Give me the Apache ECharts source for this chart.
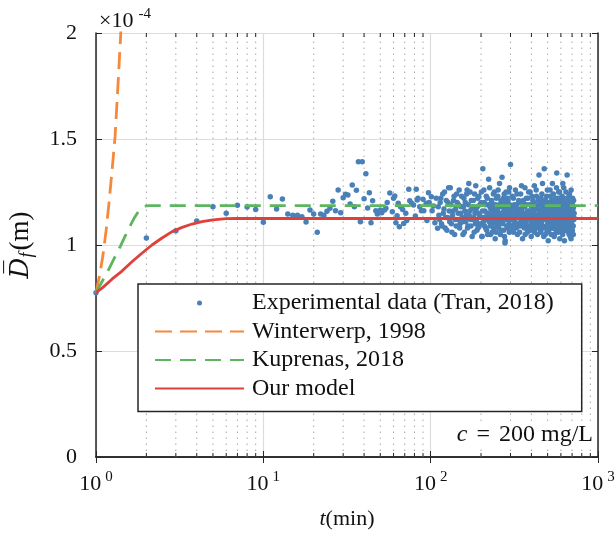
<!DOCTYPE html>
<html>
<head>
<meta charset="utf-8">
<style>
html,body{margin:0;padding:0;background:#fff;}
#chart{width:616px;height:536px;}
</style>
<script src="https://cdn.jsdelivr.net/npm/echarts@6/dist/echarts.min.js"></script>
</head>
<body>
<div id="chart"></div>
<script>
// ---- data (D_f in units of 1e-4 m, t in minutes) ----
const expEarly = [[1,0.775],[2,1.033],[3,1.067],[4,1.113],[5,1.181],[6,1.150],[7,1.187],[8,1.179],[9,1.168],[10,1.107],[11,1.228],[12,1.170],[13,1.217],
[14,1.146],[15,1.140],[16,1.140],[17,1.133],[18,1.108],[19,1.165],[20,1.146],[21,1.060],[22,1.146],[23,1.140],[24,1.159],[25,1.173],[26,1.206],[27,1.162],[28,1.259],[29,1.152],[30,1.223],[31,1.239],[32,1.236],[33,1.193],[34,1.283],[35,1.181],[36,1.258],[37,1.393],[38,1.110],[39,1.393],[40,1.218],[41,1.336],[42,1.175],[43,1.247],[44,1.105],[45,1.209],[47,1.162],[48,1.146],[50,1.165],[51,1.152],[53,1.165],[54,1.173],[55,1.201],[57,1.245],[59,1.157],[60,1.220],[61,1.231],[62,1.105],[63,1.138],[64,1.197],[65,1.086],[66,1.181],[68,1.168],[69,1.102],[71,1.150],[72,1.115],[74,1.263],[75,1.209],[77,1.197],[79,1.189],[81,1.137],[82,1.263],[83,1.212],[84,1.220],[86,1.181],[88,1.162],[90,1.216],[91,1.162],[94,1.197],[95,1.115],[97,1.247],[98,1.200],[101,1.228],[102,1.162],[104,1.184],[106,1.105],[108,1.220],[110,1.079]];
const expMid = [[111,1.18],[113,1.12],[115,1.22],[117,1.09],[119,1.15],[121,1.25],[123,1.13],[125,1.07],[127,1.20],[129,1.16],
[131,1.27],[133,1.10],[135,1.14],[137,1.21],[139,1.05],[141,1.17],[143,1.24],[145,1.12],[147,1.19],[149,1.08],
[151,1.15],[153,1.23],[155,1.11],[157,1.18],[159,1.06],[161,1.20],[163,1.14],[165,1.26],[167,1.09],[169,1.29],
[171,1.16],[173,1.12],[175,1.21],[177,1.04],[179,1.18],[181,1.13],[183,1.24],[185,1.10],[187,1.17],[189,1.07],
[191,1.22],[193,1.15],[195,1.09],[197,1.19],[199,1.13],[201,1.25],[203,1.04],[205,1.36],[207,1.11],[209,1.20],
[211,1.16],[213,1.08],[215,1.23],[217,1.14],[219,1.05],[221,1.19],[223,1.12],[225,1.27],[227,1.09],[229,1.17],
[231,1.21],[233,1.06],[235,1.15],[237,1.24],[239,1.11],[241,1.18],[243,1.03],[245,1.14],[247,1.22],[249,1.10],
[251,1.16],[253,1.26],[255,1.08],[257,1.19],[259,1.13],[261,1.05],[263,1.21],[265,1.15],[267,1.32],[269,1.11],
[271,1.18],[273,1.07],[275,1.24],[277,1.13],[279,1.02],[281,1.20],[283,1.15],[285,1.09],[287,1.22],[289,1.17],
[291,1.12],[293,1.25],[295,1.06],[297,1.19],[299,1.14]];
const expMid2 = [[112,1.14],[114,1.20],[116,1.10],[118,1.24],[120,1.17],[122,1.08],[124,1.21],[126,1.13],[128,1.27],[130,1.11],
[132,1.19],[134,1.06],[136,1.16],[138,1.23],[140,1.12],[142,1.09],[144,1.20],[146,1.15],[148,1.26],[150,1.10],
[152,1.18],[154,1.13],[156,1.05],[158,1.22],[160,1.16],[162,1.11],[164,1.24],[166,1.08],[168,1.19],[170,1.14],
[172,1.25],[174,1.09],[176,1.17],[178,1.12],[180,1.21],[182,1.06],[184,1.15],[186,1.28],[188,1.11],[190,1.18],
[192,1.08],[194,1.23],[196,1.14],[198,1.10],[200,1.20],[202,1.04],[204,1.16],[206,1.13],[208,1.26],[210,1.09],
[212,1.19],[214,1.12],[216,1.07],[218,1.22],[220,1.15],[222,1.31],[224,1.11],[226,1.18],[228,1.05],[230,1.14],
[232,1.20],[234,1.10],[236,1.16],[238,1.08],[240,1.25],[242,1.13],[244,1.19],[246,1.06],[248,1.17],[250,1.12],
[252,1.23],[254,1.09],[256,1.15],[258,1.29],[260,1.11],[262,1.18],[264,1.07],[266,1.20],[268,1.14],[270,1.10],
[272,1.22],[274,1.16],[276,1.04],[278,1.01],[280,1.13],[282,1.25],[284,1.12],[286,1.18],[288,1.08],[290,1.21],
[292,1.15],[294,1.10],[296,1.27],[298,1.13]];
const expLate = [[300,1.38],[303,1.12],[306,1.18],[309,1.07],[312,1.22],[315,1.15],[318,1.10],[321,1.26],[324,1.13],[327,1.19],
[330,1.05],[333,1.16],[336,1.21],[339,1.09],[342,1.14],[345,1.24],[348,1.11],[351,1.17],[354,1.03],[357,1.20],
[360,1.13],[363,1.08],[366,1.27],[369,1.15],[372,1.10],[375,1.19],[378,1.06],[381,1.22],[384,1.12],[387,1.16],
[390,1.09],[393,1.25],[396,1.14],[399,1.04],[402,1.18],[405,1.11],[408,1.21],[411,1.07],[414,1.15],[417,1.28],
[420,1.12],[423,1.17],[426,1.08],[429,1.23],[432,1.13],[435,1.05],[438,1.19],[441,1.10],[444,1.33],[447,1.16],
[450,1.11],[453,1.20],[456,1.07],[459,1.15],[462,1.24],[465,1.09],[468,1.13],[471,1.18],[474,1.04],[477,1.36],
[480,1.14],[483,1.08],[486,1.21],[489,1.12],[492,1.17],[495,1.06],[498,1.26],[501,1.10],[504,1.02],[507,1.19],
[510,1.13],[513,1.16],[516,1.09],[519,1.23],[522,1.11],[525,1.05],[528,1.18],[531,1.14],[534,1.29],[537,1.08],
[540,1.15],[543,1.20],[546,1.10],[549,1.05],[552,1.17],[555,1.12],[558,1.22],[561,1.07],[564,1.14],[567,1.34],
[570,1.11],[573,1.19],[576,1.06],[579,1.16],[582,1.25],[585,1.09],[588,1.13],[591,1.03],[594,1.21],[597,1.12],
[600,1.17],[603,1.08],[606,1.14],[609,1.23],[612,1.10],[615,1.05],[618,1.19],[621,1.12],[624,1.27],[627,1.15],
[630,1.02],[633,1.18],[636,1.11],[639,1.07],[642,1.21],[645,1.13],[648,1.16],[651,1.09],[654,1.33],[657,1.14],
[660,1.10],[663,1.20],[666,1.06],[669,1.15],[672,1.12],[675,1.24],[678,1.08],[681,1.17],[684,1.04],[687,1.13],
[690,1.03],[693,1.19],[696,1.11],[699,1.16],[702,1.07],[705,1.22],[708,1.14],[711,1.09],[714,1.18],[717,1.12],
[720,1.15]];
const expLate2 = [[301,1.16],[304,1.09],[307,1.23],[310,1.13],[313,1.06],[316,1.19],[319,1.11],[322,1.17],[325,1.08],[328,1.24],
[331,1.14],[334,1.10],[337,1.20],[340,1.06],[343,1.17],[346,1.12],[349,1.28],[352,1.09],[355,1.15],[358,1.21],
[361,1.11],[364,1.18],[367,1.05],[370,1.14],[373,1.22],[376,1.12],[379,1.16],[382,1.08],[385,1.25],[388,1.13],
[391,1.19],[394,1.07],[397,1.15],[400,1.11],[403,1.23],[406,1.16],[409,1.09],[412,1.20],[415,1.13],[418,1.06],
[421,1.18],[424,1.14],[427,1.26],[430,1.10],[433,1.17],[436,1.12],[439,1.21],[442,1.08],[445,1.15],[448,1.19],
[451,1.13],[454,1.06],[457,1.22],[460,1.11],[463,1.17],[466,1.29],[469,1.09],[472,1.14],[475,1.20],[478,1.12],
[481,1.16],[484,1.05],[487,1.18],[490,1.13],[493,1.23],[496,1.09],[499,1.15],[502,1.20],[505,1.11],[508,1.07],
[511,1.19],[514,1.14],[517,1.26],[520,1.10],[523,1.16],[526,1.12],[529,1.21],[532,1.08],[535,1.17],[538,1.13],
[541,1.24],[544,1.11],[547,1.04],[550,1.18],[553,1.14],[556,1.09],[559,1.20],[562,1.15],[565,1.27],[568,1.10],
[571,1.16],[574,1.13],[577,1.22],[580,1.07],[583,1.18],[586,1.12],[589,1.25],[592,1.09],[595,1.15],[598,1.19],
[601,1.11],[604,1.16],[607,1.06],[610,1.20],[613,1.13],[616,1.29],[619,1.09],[622,1.17],[625,1.12],[628,1.22],
[631,1.08],[634,1.15],[637,1.19],[640,1.11],[643,1.25],[646,1.07],[649,1.14],[652,1.18],[655,1.10],[658,1.21],
[661,1.13],[664,1.16],[667,1.09],[670,1.23],[673,1.05],[676,1.17],[679,1.12],[682,1.20],[685,1.08],[688,1.15],
[691,1.26],[694,1.10],[697,1.14],[700,1.07],[703,1.19],[706,1.12],[709,1.17],[712,1.05],[715,1.21],[718,1.13]];

const winterT = [1, 1.05, 1.1, 1.15, 1.2, 1.25, 1.3, 1.35, 1.4, 1.45];
const winterV = [0.775, 0.855, 0.95, 1.07, 1.21, 1.36, 1.51, 1.74, 1.97, 2.2];

const kupT = [1, 1.1, 1.2, 1.3, 1.4, 1.5, 1.6, 1.7, 1.8, 1.9, 2.0, 2.1, 1000];
const kupV = [0.775, 0.835, 0.89, 0.945, 0.995, 1.045, 1.09, 1.13, 1.16, 1.177, 1.185, 1.186, 1.186];

const modelT = [1, 1.1, 1.25, 1.43, 1.64, 1.88, 2.16, 2.48, 2.85, 3.27, 3.75, 4.3, 5, 6, 7, 8, 10, 1000];
const modelV = [0.775, 0.80, 0.84, 0.877, 0.921, 0.961, 1.0, 1.033, 1.063, 1.083, 1.099, 1.110, 1.119, 1.124, 1.125, 1.125, 1.125, 1.125];

const yTicks = [0, 0.5, 1, 1.5, 2];
const minorT = [2,3,4,5,6,7,8,9,20,30,40,50,60,70,80,90,200,300,400,500,600,700,800,900];
const seriesNames = ['Experimental data (Tran, 2018)', 'Winterwerp, 1998', 'Kuprenas, 2018', 'Our model'];
const noteParts = ['c', ' = ', '200 mg/L'];
const expExponent = '-4';

// ---- chart ----
const FONT = 'Liberation Serif';
const AX = '#262626';
const zip = (a, b) => a.map((v, i) => [v, b[i]]);
const chart = echarts.init(document.getElementById('chart'), null, {renderer: 'canvas'});

const axisCommon = {
  axisLine: {show: true, lineStyle: {color: AX, width: 1.5}},
  axisTick: {show: true, inside: true, length: 6, lineStyle: {color: AX, width: 1}},
};

const option = {
  animation: false,
  backgroundColor: '#fff',
  grid: {left: 96, top: 33, right: 18, bottom: 79, containLabel: false, outerBoundsMode: 'none'},
  xAxis: [{
    type: 'log', logBase: 10, min: 1, max: 1000,
    ...axisCommon,
    axisLabel: {
      show: true, margin: 13, showMinLabel: true, showMaxLabel: true,
      formatter: v => '{b|10}{s|' + Math.round(Math.log10(v)) + '}',
      rich: {
        b: {fontFamily: FONT, fontSize: 22, color: '#111'},
        s: {fontFamily: FONT, fontSize: 15, color: '#111', padding: [0, 0, 13, 4]}
      }
    },
    splitLine: {show: true, lineStyle: {color: '#dcdcdc', width: 1.2}},
    minorTick: {show: false}, minorSplitLine: {show: false},
    name: '{i|t}{n|(min)}', nameLocation: 'middle', nameGap: 51,
    nameTextStyle: {rich: {
      i: {fontFamily: FONT, fontStyle: 'italic', fontSize: 22, color: '#111'},
      n: {fontFamily: FONT, fontSize: 22, color: '#111'}
    }}
  }, {
    type: 'log', logBase: 10, min: 1, max: 1000, position: 'top',
    ...axisCommon,
    axisLabel: {show: false}, splitLine: {show: false}
  }],
  yAxis: [{
    type: 'value', min: yTicks[0], max: yTicks[yTicks.length - 1], interval: 0.5,
    ...axisCommon,
    axisLabel: {show: true, margin: 19, fontFamily: FONT, fontSize: 22, color: '#111',
      formatter: v => String(v)},
    splitLine: {show: true, lineStyle: {color: '#dcdcdc', width: 1.2}},
    name: '{d|D\u0305}{f|f}{n|(m)}', nameLocation: 'middle', nameGap: 60, nameRotate: 90,
    nameTextStyle: {rich: {
      d: {fontFamily: 'DejaVu Serif', fontStyle: 'italic', fontSize: 26, color: '#111'},
      f: {fontFamily: FONT, fontStyle: 'italic', fontSize: 18, color: '#111', padding: [12, 2, 0, 0]},
      n: {fontFamily: FONT, fontSize: 27, color: '#111'}
    }}
  }, {
    type: 'value', min: yTicks[0], max: yTicks[yTicks.length - 1], interval: 0.5, position: 'right',
    ...axisCommon,
    axisLabel: {show: false}, splitLine: {show: false}
  }],
  legend: {
    data: [
      {name: seriesNames[0]},
      {name: seriesNames[1], itemStyle: {opacity: 0}},
      {name: seriesNames[2], itemStyle: {opacity: 0}},
      {name: seriesNames[3], itemStyle: {opacity: 0}}
    ],
    orient: 'vertical', left: 138, top: 284,
    backgroundColor: '#fff', borderColor: AX, borderWidth: 1.5, borderRadius: 0,
    padding: [7, 28, 11, 16],
    itemWidth: 89, itemHeight: 5, itemGap: 4.5,
    textStyle: {fontFamily: FONT, fontSize: 24, color: '#111', lineHeight: 24, padding: [0, 0, 0, 3]},
    selectedMode: false
  },
  graphic: [
    {type: 'text', left: 99, top: 7, z: 10,
      style: {text: '{a|×10}{b|' + expExponent + '}',
        rich: {a: {fontFamily: FONT, fontSize: 22, fill: '#111'},
               b: {fontFamily: FONT, fontSize: 15, fill: '#111', padding: [0, 0, 13, 5]}}}},
    {type: 'text', right: 20, top: 421, z: 10,
      style: {text: '{i|' + noteParts[0] + '}{e|' + noteParts[1] + '}{n|' + noteParts[2] + '}',
        backgroundColor: '#fff', padding: [2, 3, 2, 4],
        rich: {i: {fontFamily: FONT, fontStyle: 'italic', fontSize: 24, fill: '#111'},
               e: {fontFamily: FONT, fontSize: 24, fill: '#111', padding: [0, 3, 0, 3]},
               n: {fontFamily: FONT, fontSize: 24, fill: '#111'}}}}
  ],
  series: [
    {
      type: 'custom', name: 'minor', silent: true, z: 1, xAxisIndex: 0, yAxisIndex: 0,
      data: minorT.map(t => [t, 0]),
      renderItem: (params, api) => {
        const t = api.value(0);
        const p0 = api.coord([t, yTicks[0]]);
        const p1 = api.coord([t, yTicks[yTicks.length - 1]]);
        return {type: 'group', children: [
          {type: 'line', shape: {x1: p0[0], y1: p0[1], x2: p1[0], y2: p1[1]},
            style: {stroke: '#a8a8a8', lineWidth: 1, lineDash: [1.5, 4.5]}},
          {type: 'line', shape: {x1: p0[0], y1: p0[1], x2: p0[0], y2: p0[1] - 4},
            style: {stroke: AX, lineWidth: 1}},
          {type: 'line', shape: {x1: p1[0], y1: p1[1], x2: p1[0], y2: p1[1] + 4},
            style: {stroke: AX, lineWidth: 1}}
        ]};
      }
    },
    {
      type: 'scatter', name: seriesNames[0], z: 3,
      data: expEarly.concat(expMid, expMid2, expLate, expLate2),
      symbol: 'circle', symbolSize: 5.5,
      itemStyle: {color: '#4a80b8', opacity: 1}
    },
    {
      type: 'line', name: seriesNames[1], z: 4, data: zip(winterT, winterV),
      showSymbol: false, symbol: 'none', clip: true, smooth: false,
      lineStyle: {color: '#f5883a', width: 2.8, type: [17, 8]},
      itemStyle: {color: '#f5883a'}
    },
    {
      type: 'line', name: seriesNames[2], z: 4, data: zip(kupT, kupV),
      showSymbol: false, symbol: 'none', clip: true, smooth: false,
      lineStyle: {color: '#5cb55f', width: 2.8, type: [16, 9]},
      itemStyle: {color: '#5cb55f'}
    },
    {
      type: 'line', name: seriesNames[3], z: 5, data: zip(modelT, modelV),
      showSymbol: false, symbol: 'none', clip: true, smooth: false,
      lineStyle: {color: '#e0403a', width: 2.8, type: 'solid'},
      itemStyle: {color: '#e0403a'}
    }
  ]
};
chart.setOption(option);
</script>
</body>
</html>
